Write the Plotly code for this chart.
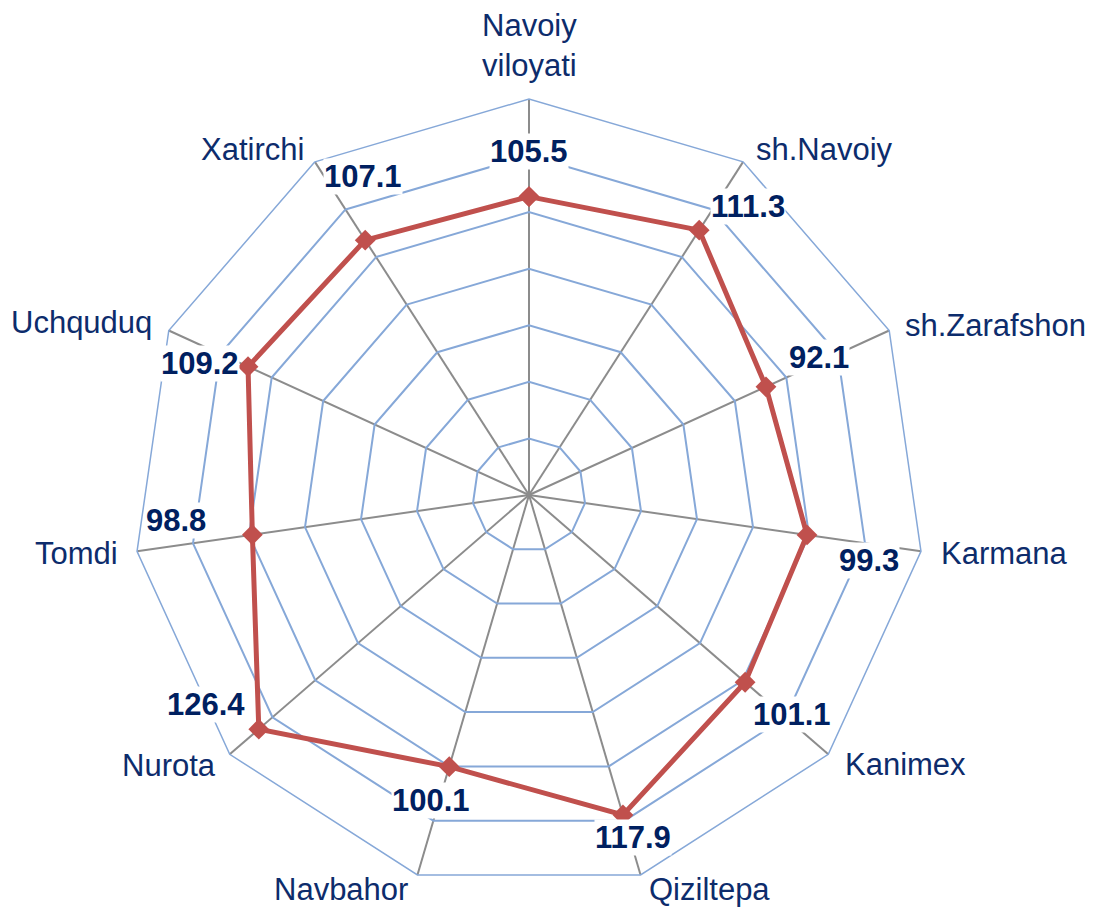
import math
import plotly.graph_objects as go

categories = ["Navoiy<br>viloyati", "sh.Navoiy", "sh.Zarafshon", "Karmana", "Kanimex",
              "Qiziltepa", "Navbahor", "Nurota", "Tomdi", "Uchquduq", "Xatirchi"]
values = [105.5, 111.3, 92.1, 99.3, 101.1, 117.9, 100.1, 126.4, 98.8, 109.2, 107.1]
value_labels = ["105.5", "111.3", "92.1", "99.3", "101.1", "117.9", "100.1", "126.4", "98.8", "109.2", "107.1"]

# pixel offsets of the value labels relative to their points
label_dx = [0, 49, 53, 62, 47, 10, -18, -53, -76, -48, -2]
label_dy = [-45, -24, -29, 26, 32, 23, 34, -25, -14, -3, -64]

# pixel offsets / anchors of the category labels relative to the outer vertices
cat_dx = [0, 11, 14, 18, 15, 6, -7, -12, -17, -15, -9]
cat_dy = [-54, -12, -5, 2, 10, 15, 15, 11, 2, -8, -12]
cat_anchor = ["center", "left", "left", "left", "left", "left",
              "right", "right", "right", "right", "right"]

W, H = 1094, 907
CX, CY, R = 529, 495, 396
RMAX = 140

dom_x = [(CX - R) / W, (CX + R) / W]
dom_y = [1 - (CY + R) / H, 1 - (CY - R) / H]

fig = go.Figure()
fig.add_trace(go.Scatterpolar(
    r=values + [values[0]],
    theta=categories + [categories[0]],
    mode="lines+markers",
    line=dict(color="#C0504D", width=5),
    marker=dict(symbol="diamond", size=16, color="#C0504D"),
    hoverinfo="r+theta",
    showlegend=False,
))

n = len(categories)
annotations = []


def to_paper(r_val, i):
    ang = 2 * math.pi * i / n
    rp = r_val / RMAX * R
    px = CX + rp * math.sin(ang)
    py = CY - rp * math.cos(ang)
    return px / W, 1 - py / H


for i, (v, lab) in enumerate(zip(values, value_labels)):
    x, y = to_paper(v, i)
    annotations.append(dict(
        x=x, y=y, xref="paper", yref="paper",
        xshift=label_dx[i], yshift=-label_dy[i],
        text="<b>%s</b>" % lab, showarrow=False,
        font=dict(family="Liberation Sans, Arial", size=31, color="#002060"),
        bgcolor="white", borderpad=0,
        xanchor="center", yanchor="middle",
    ))

for i, cat in enumerate(categories):
    x, y = to_paper(RMAX, i)
    annotations.append(dict(
        x=x, y=y, xref="paper", yref="paper",
        xshift=cat_dx[i], yshift=-cat_dy[i],
        text=cat, showarrow=False,
        font=dict(family="Liberation Sans, Arial", size=31, color="#0D2C6C"),
        xanchor=cat_anchor[i], yanchor="middle", align="center",
    ))

fig.update_layout(
    width=W, height=H,
    margin=dict(l=0, r=0, t=0, b=0),
    paper_bgcolor="white",
    plot_bgcolor="white",
    annotations=annotations,
    polar=dict(
        domain=dict(x=dom_x, y=dom_y),
        bgcolor="white",
        gridshape="linear",
        angularaxis=dict(
            type="category",
            categoryarray=categories,
            rotation=90,
            direction="clockwise",
            showline=True,
            linecolor="#86A8D8",
            linewidth=1.5,
            gridcolor="#8C8C8C",
            gridwidth=1.5,
            ticks="",
            showticklabels=False,
        ),
        radialaxis=dict(
            range=[0, RMAX],
            dtick=20,
            showticklabels=False,
            showline=False,
            ticks="",
            gridcolor="#86A8D8",
            gridwidth=1.5,
        ),
    ),
)

fig.write_html("out.html", config={"displayModeBar": False},
               post_script="document.body.style.margin='0px';document.body.style.overflow='hidden';")
